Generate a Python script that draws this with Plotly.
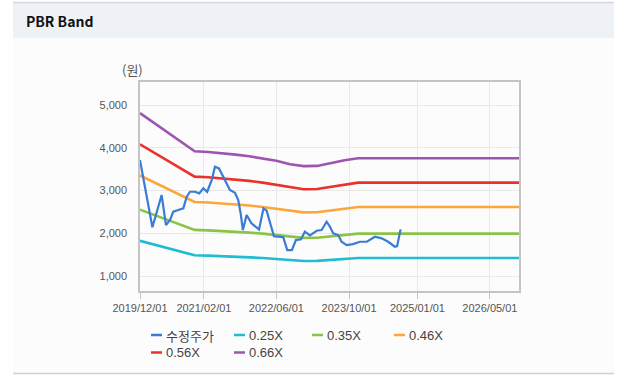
import plotly.graph_objects as go

# ---------------- data ----------------
price_dates = [
    "2019-12-01", "2020-02-22", "2020-04-24", "2020-05-23", "2020-06-19", "2020-07-11",
    "2020-08-13", "2020-09-16", "2020-10-09", "2020-10-31", "2020-12-03", "2021-01-01",
    "2021-01-28", "2021-02-23", "2021-03-25", "2021-04-16", "2021-05-13", "2021-06-11",
    "2021-07-25", "2021-08-28", "2021-09-19", "2021-10-05", "2021-10-20", "2021-11-14",
    "2021-12-16", "2022-02-05", "2022-03-07", "2022-03-28", "2022-05-01", "2022-05-16",
    "2022-07-17", "2022-08-13", "2022-09-13", "2022-10-10", "2022-11-13", "2022-12-09",
    "2023-01-12", "2023-02-26", "2023-03-31", "2023-05-04", "2023-05-26", "2023-06-17",
    "2023-07-20", "2023-08-12", "2023-09-15", "2023-10-27", "2023-12-13", "2024-01-28",
    "2024-03-22", "2024-05-06", "2024-06-19", "2024-08-03", "2024-08-18", "2024-09-01",
    "2024-09-10",
]
price_values = [
    3713, 2140, 2895, 2190, 2310, 2505,
    2544, 2584, 2855, 2972, 2972, 2934,
    3052, 2972, 3246, 3557, 3518, 3323,
    3012, 2950, 2778, 2466, 2076, 2427,
    2233, 2090, 2584, 2530, 2140, 1930,
    1910, 1608, 1608, 1842, 1860, 2037,
    1950, 2060, 2076, 2271, 2154, 1998,
    1959, 1802, 1725, 1748, 1802, 1802,
    1920, 1881, 1802, 1686, 1701, 1959,
    2092,
]

band_dates = [
    "2019-12-01", "2020-03-01", "2020-06-01", "2020-09-01", "2020-12-01", "2021-03-01",
    "2021-06-01", "2021-09-01", "2021-12-01", "2022-03-01", "2022-06-01", "2022-09-01",
    "2022-12-01", "2023-03-01", "2023-06-01", "2023-09-01", "2023-12-01", "2026-11-12",
]
band_025 = [1823, 1738, 1650, 1563, 1485, 1478, 1468, 1455, 1440, 1423, 1400, 1370,
            1353, 1355, 1380, 1405, 1423, 1423]
band_035 = [2552, 2433, 2310, 2188, 2079, 2069, 2055, 2037, 2016, 1992, 1960, 1918,
            1894, 1897, 1932, 1967, 1992, 1992]
band_046 = [3353, 3197, 3036, 2875, 2732, 2719, 2700, 2677, 2650, 2617, 2576, 2521,
            2489, 2493, 2539, 2585, 2617, 2617]
band_056 = [4082, 3892, 3696, 3500, 3326, 3310, 3287, 3259, 3226, 3186, 3136, 3069,
            3030, 3035, 3091, 3147, 3186, 3186]
band_066 = [4811, 4587, 4356, 4125, 3920, 3901, 3874, 3841, 3802, 3755, 3696, 3617,
            3571, 3577, 3643, 3709, 3755, 3755]

series_names = ["수정주가", "0.25X", "0.35X", "0.46X", "0.56X", "0.66X"]

x_tick_vals = ["2019-12-01", "2021-02-01", "2022-06-01", "2023-10-01", "2025-01-01", "2026-05-01"]
x_tick_text = ["2019/12/01", "2021/02/01", "2022/06/01", "2023/10/01", "2025/01/01", "2026/05/01"]
y_tick_vals = [1000, 2000, 3000, 4000, 5000]
y_tick_text = ["1,000", "2,000", "3,000", "4,000", "5,000"]

# ---------------- style ----------------
W, H = 621, 380
PL, PR, PT, PB = 140, 519, 82, 291   # plot area in pixels
colors = ["#3a7bd5", "#1fbcd2", "#8bc34a", "#fba73a", "#e8322b", "#9e55b0"]
font_lat = "Liberation Sans, Noto Sans CJK KR, sans-serif"
font_kr = "Noto Sans CJK KR, Liberation Sans, sans-serif"


def px_x(px):
    return (px - PL) / (PR - PL)


def px_y(py):
    return (PB - py) / (PB - PT)


fig = go.Figure()
bands = [band_025, band_035, band_046, band_056, band_066]
for name, vals, col in zip(series_names[1:], bands, colors[1:]):
    fig.add_trace(go.Scatter(x=band_dates, y=vals, mode="lines", name=name,
                             line=dict(color=col, width=2.6), showlegend=False))
fig.add_trace(go.Scatter(x=price_dates, y=price_values, mode="lines", name=series_names[0],
                         line=dict(color=colors[0], width=2.2), showlegend=False))

shapes = [
    # content background
    dict(type="rect", xref="paper", yref="paper", x0=px_x(13), x1=px_x(614),
         y0=px_y(373), y1=px_y(38), fillcolor="#fcfcfc", line=dict(width=0), layer="below"),
    # header bar
    dict(type="rect", xref="paper", yref="paper", x0=px_x(13), x1=px_x(614),
         y0=px_y(38), y1=px_y(3), fillcolor="#eef2f7", line=dict(width=0), layer="below"),
    dict(type="line", xref="paper", yref="paper", x0=px_x(13), x1=px_x(614),
         y0=px_y(2.5), y1=px_y(2.5), line=dict(color="#d4d7dc", width=1.5), layer="below"),
    dict(type="line", xref="paper", yref="paper", x0=px_x(13), x1=px_x(614),
         y0=px_y(373.5), y1=px_y(373.5), line=dict(color="#d0d0d0", width=1.5), layer="below"),
]

annotations = [
    dict(text="<b>PBR Band</b>", xref="paper", yref="paper", x=px_x(24), y=px_y(21),
         xanchor="left", yanchor="middle", showarrow=False,
         font=dict(family=font_kr, size=14, color="#111")),
    dict(text="(원)", xref="paper", yref="paper", x=px_x(120), y=px_y(70),
         xanchor="left", yanchor="middle", showarrow=False,
         font=dict(family=font_kr, size=13, color="#555")),
]

# custom legend (positions in pixels)
legend_pos = [(151, 335), (234, 335), (312, 335), (394, 335), (151, 352.5), (234, 352.5)]
for name, col, (lx, ly) in zip(series_names, colors, legend_pos):
    shapes.append(dict(type="line", xref="paper", yref="paper", x0=px_x(lx), x1=px_x(lx + 11),
                       y0=px_y(ly), y1=px_y(ly), line=dict(color=col, width=2.5)))
    annotations.append(dict(text=name, xref="paper", yref="paper", x=px_x(lx + 13), y=px_y(ly),
                            xanchor="left", yanchor="middle", showarrow=False,
                            font=dict(family=font_lat if name != "수정주가" else font_kr,
                                      size=13, color="#444")))

fig.update_layout(
    width=W, height=H, autosize=False,
    margin=dict(l=PL, r=W - PR, t=PT, b=H - PB, pad=0),
    paper_bgcolor="#ffffff", plot_bgcolor="#ffffff",
    showlegend=False,
    shapes=shapes, annotations=annotations,
    xaxis=dict(type="date", range=["2019-12-01", "2026-11-12"],
               tickmode="array", tickvals=x_tick_vals, ticktext=x_tick_text,
               showgrid=True, gridcolor="#e9e9e9", gridwidth=1,
               showline=True, linecolor="#c4c4c4", linewidth=1.5, mirror=True,
               ticks="outside", ticklen=6, tickcolor="#c4c4c4", tickwidth=1,
               tickfont=dict(family=font_lat, size=11, color="#555"),
               zeroline=False, fixedrange=True),
    yaxis=dict(range=[650, 5540], tickmode="array", tickvals=y_tick_vals, ticktext=y_tick_text,
               showgrid=True, gridcolor="#e9e9e9", gridwidth=1,
               showline=True, linecolor="#c4c4c4", linewidth=1.5, mirror=True,
               ticks="", ticklabelstandoff=9,
               tickfont=dict(family=font_lat, size=11, color="#555"),
               zeroline=False, fixedrange=True),
)

fig.write_html("out.html", post_script="document.body.style.margin='0';",
               config={"displayModeBar": False})
